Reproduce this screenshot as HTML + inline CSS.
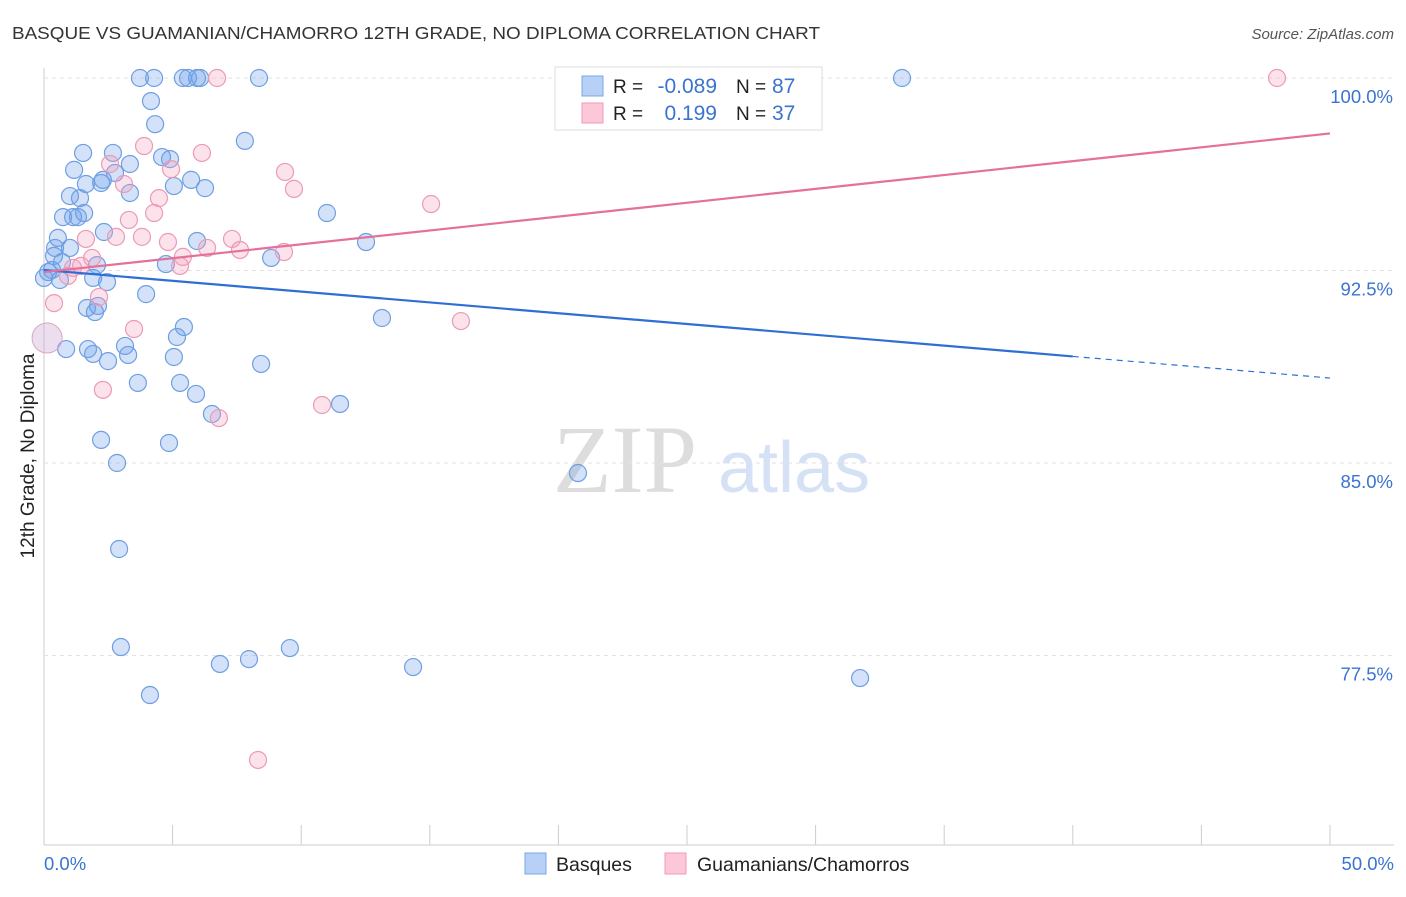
<!DOCTYPE html>
<html><head><meta charset="utf-8"><style>
body{margin:0;background:#fff;font-family:"Liberation Sans",sans-serif}
svg text{font-family:"Liberation Sans",sans-serif}
</style></head><body>
<svg id="c" width="1406" height="892">
<text x="12" y="39" font-size="17.5" fill="#333" textLength="808" lengthAdjust="spacingAndGlyphs">BASQUE VS GUAMANIAN/CHAMORRO 12TH GRADE, NO DIPLOMA CORRELATION CHART</text>
<text x="1394" y="39" font-size="15" fill="#555" text-anchor="end" font-style="italic">Source: ZipAtlas.com</text>
<g><text x="553" y="492" font-size="96" fill="#ddd" font-family="Liberation Serif" style="font-family:'Liberation Serif',serif">ZIP</text><text x="718" y="492" font-size="72" fill="#d5e2f5">atlas</text></g>
<g id="grid"></g><g id="pts"></g><g id="trend"></g>
<text transform="translate(34,456) rotate(-90)" font-size="19" fill="#222" text-anchor="middle">12th Grade, No Diploma</text>
<g>
<rect x="555" y="67" width="267" height="63" fill="#fff" stroke="#ddd"/>
<rect x="582" y="76" width="21" height="20" fill="#b8d0f5" stroke="#7aa7e6"/>
<rect x="582" y="103" width="21" height="20" fill="#fcc8d8" stroke="#f09ab8"/>
<text x="613" y="93" font-size="19" fill="#222">R =</text><text x="717" y="93" font-size="21" fill="#3a74d0" text-anchor="end">-0.089</text>
<text x="736" y="93" font-size="19" fill="#222">N =</text><text x="772" y="93" font-size="21" fill="#3a74d0">87</text>
<text x="613" y="120" font-size="19" fill="#222">R =</text><text x="717" y="120" font-size="21" fill="#3a74d0" text-anchor="end">0.199</text>
<text x="736" y="120" font-size="19" fill="#222">N =</text><text x="772" y="120" font-size="21" fill="#3a74d0">37</text>
</g>
<g>
<rect x="525" y="853" width="21" height="21" fill="#b8d0f5" stroke="#7aa7e6"/>
<text x="556" y="871" font-size="19.5" fill="#222">Basques</text>
<rect x="665" y="853" width="21" height="21" fill="#fcc8d8" stroke="#f09ab8"/>
<text x="697" y="871" font-size="19.5" fill="#222">Guamanians/Chamorros</text>
</g>
</svg>
<script>
const blueX=[3.73,4.28,5.40,5.60,5.95,6.07,8.36,23.13,33.36,27.84,4.16,4.32,7.81,1.52,2.68,4.59,4.90,3.34,1.17,2.76,2.29,5.72,1.63,2.22,5.05,6.26,1.01,1.40,3.34,0.74,1.13,1.32,1.56,11.00,2.33,0.54,5.95,12.52,0.43,1.01,0.39,8.83,0.70,2.06,4.74,0.16,0.62,1.91,2.45,3.97,1.67,2.10,1.98,5.44,13.14,5.17,3.15,0.86,1.71,1.91,3.27,5.05,2.49,8.44,3.65,5.29,5.91,11.51,6.53,2.22,4.86,2.84,20.76,2.92,2.99,9.56,6.84,7.97,14.35,31.73,4.12,0,0.31];
const blueY=[100,100,100,100,100,100,100,100,100,100,99.1,98.2,97.55,97.08,97.08,96.92,96.84,96.65,96.42,96.30,96.03,96.03,95.87,95.91,95.79,95.71,95.40,95.32,95.52,94.58,94.58,94.58,94.74,94.74,94.0,93.77,93.65,93.61,93.38,93.38,93.07,92.99,92.83,92.71,92.75,92.44,92.13,92.21,92.05,91.58,91.04,91.12,90.88,90.30,90.65,89.91,89.56,89.44,89.44,89.25,89.21,89.13,88.97,88.86,88.12,88.12,87.69,87.30,86.91,85.90,85.78,85.0,84.61,81.65,77.83,77.79,77.17,77.36,77.05,76.62,75.96,92.21,92.52];
const pinkX=[47.94,6.73,3.89,6.14,2.57,4.94,9.37,3.11,9.72,4.47,15.05,4.28,3.30,1.63,2.80,3.81,4.82,7.31,6.34,7.62,9.33,1.87,5.40,5.29,1.13,0.93,1.44,0.39,2.14,3.50,16.21,2.29,10.81,6.80,8.32];
const pinkY=[100,100,97.35,97.08,96.65,96.45,96.34,95.87,95.68,95.32,95.09,94.74,94.47,93.73,93.81,93.81,93.61,93.73,93.38,93.30,93.22,92.99,93.03,92.68,92.60,92.29,92.68,91.23,91.47,90.22,90.53,87.85,87.26,86.75,73.43];
const bigPoint=[0.12,89.87];
const blueTrend=[92.52,-0.0842];
const pinkTrend=[92.44,0.108];
const yTicks=[100,92.5,85,77.5];
const yTickLabels=["100.0%","92.5%","85.0%","77.5%"];
const xs=v=>44+v/50*1286, ys=v=>78+(100-v)/7.5*192.5;
const NS="http://www.w3.org/2000/svg";
function mk(t,a,p){const e=document.createElementNS(NS,t);for(const k in a)e.setAttribute(k,a[k]);document.getElementById(p).appendChild(e);return e;}
let e;
e=mk('line',{x1:44,y1:68,x2:44,y2:845,stroke:'#ccc'},'grid');


e=mk('line',{x1:44,y1:845,x2:1394,y2:845,stroke:'#ccc'},'grid');


yTicks.forEach((t,i)=>{
 e=mk('line',{x1:44,x2:1394,y1:ys(t),y2:ys(t),stroke:'#e2e2e2','stroke-dasharray':'4,4'},'grid');
 
 
 e=mk('text',{x:1393,y:ys(t)+25,'font-size':18.5,fill:'#3a74d0','text-anchor':'end'},'grid');e.textContent=yTickLabels[i];
 
 
});
for(let i=0;i<=10;i++){e=mk('line',{x1:xs(i*5),x2:xs(i*5),y1:825,y2:845,stroke:'#ccc'},'grid');
 
 }
e=mk('text',{x:44,y:870,'font-size':18.5,fill:'#3a74d0'},'grid');e.textContent='0.0%';


e=mk('text',{x:1394,y:870,'font-size':18.5,fill:'#3a74d0','text-anchor':'end'},'grid');e.textContent='50.0%';


blueX.forEach((x,i)=>{e=mk('circle',{cx:xs(x),cy:ys(blueY[i]),r:8.5,fill:'rgba(110,160,235,0.3)',stroke:'#6f9fe2','stroke-width':1.2},'pts');
 
 });
pinkX.forEach((x,i)=>{e=mk('circle',{cx:xs(x),cy:ys(pinkY[i]),r:8.5,fill:'rgba(245,160,190,0.3)',stroke:'#eb9ab7','stroke-width':1.2},'pts');
 
 });
e=mk('circle',{cx:xs(bigPoint[0]),cy:ys(bigPoint[1]),r:15,fill:'rgba(200,160,210,0.35)',stroke:'#d9a7c4'},'pts');


const bt=x=>blueTrend[0]+blueTrend[1]*x, pt=x=>pinkTrend[0]+pinkTrend[1]*x;
e=mk('line',{x1:xs(0),y1:ys(bt(0)),x2:xs(40),y2:ys(bt(40)),stroke:'#2f6fd4','stroke-width':2.2},'trend');


e=mk('line',{x1:xs(40),y1:ys(bt(40)),x2:xs(50),y2:ys(bt(50)),stroke:'#2f6fd4','stroke-width':1.2,'stroke-dasharray':'6,5'},'trend');


e=mk('line',{x1:xs(0),y1:ys(pt(0)),x2:xs(50),y2:ys(pt(50)),stroke:'#e4719b','stroke-width':2.2},'trend');


</script>
</body></html>
